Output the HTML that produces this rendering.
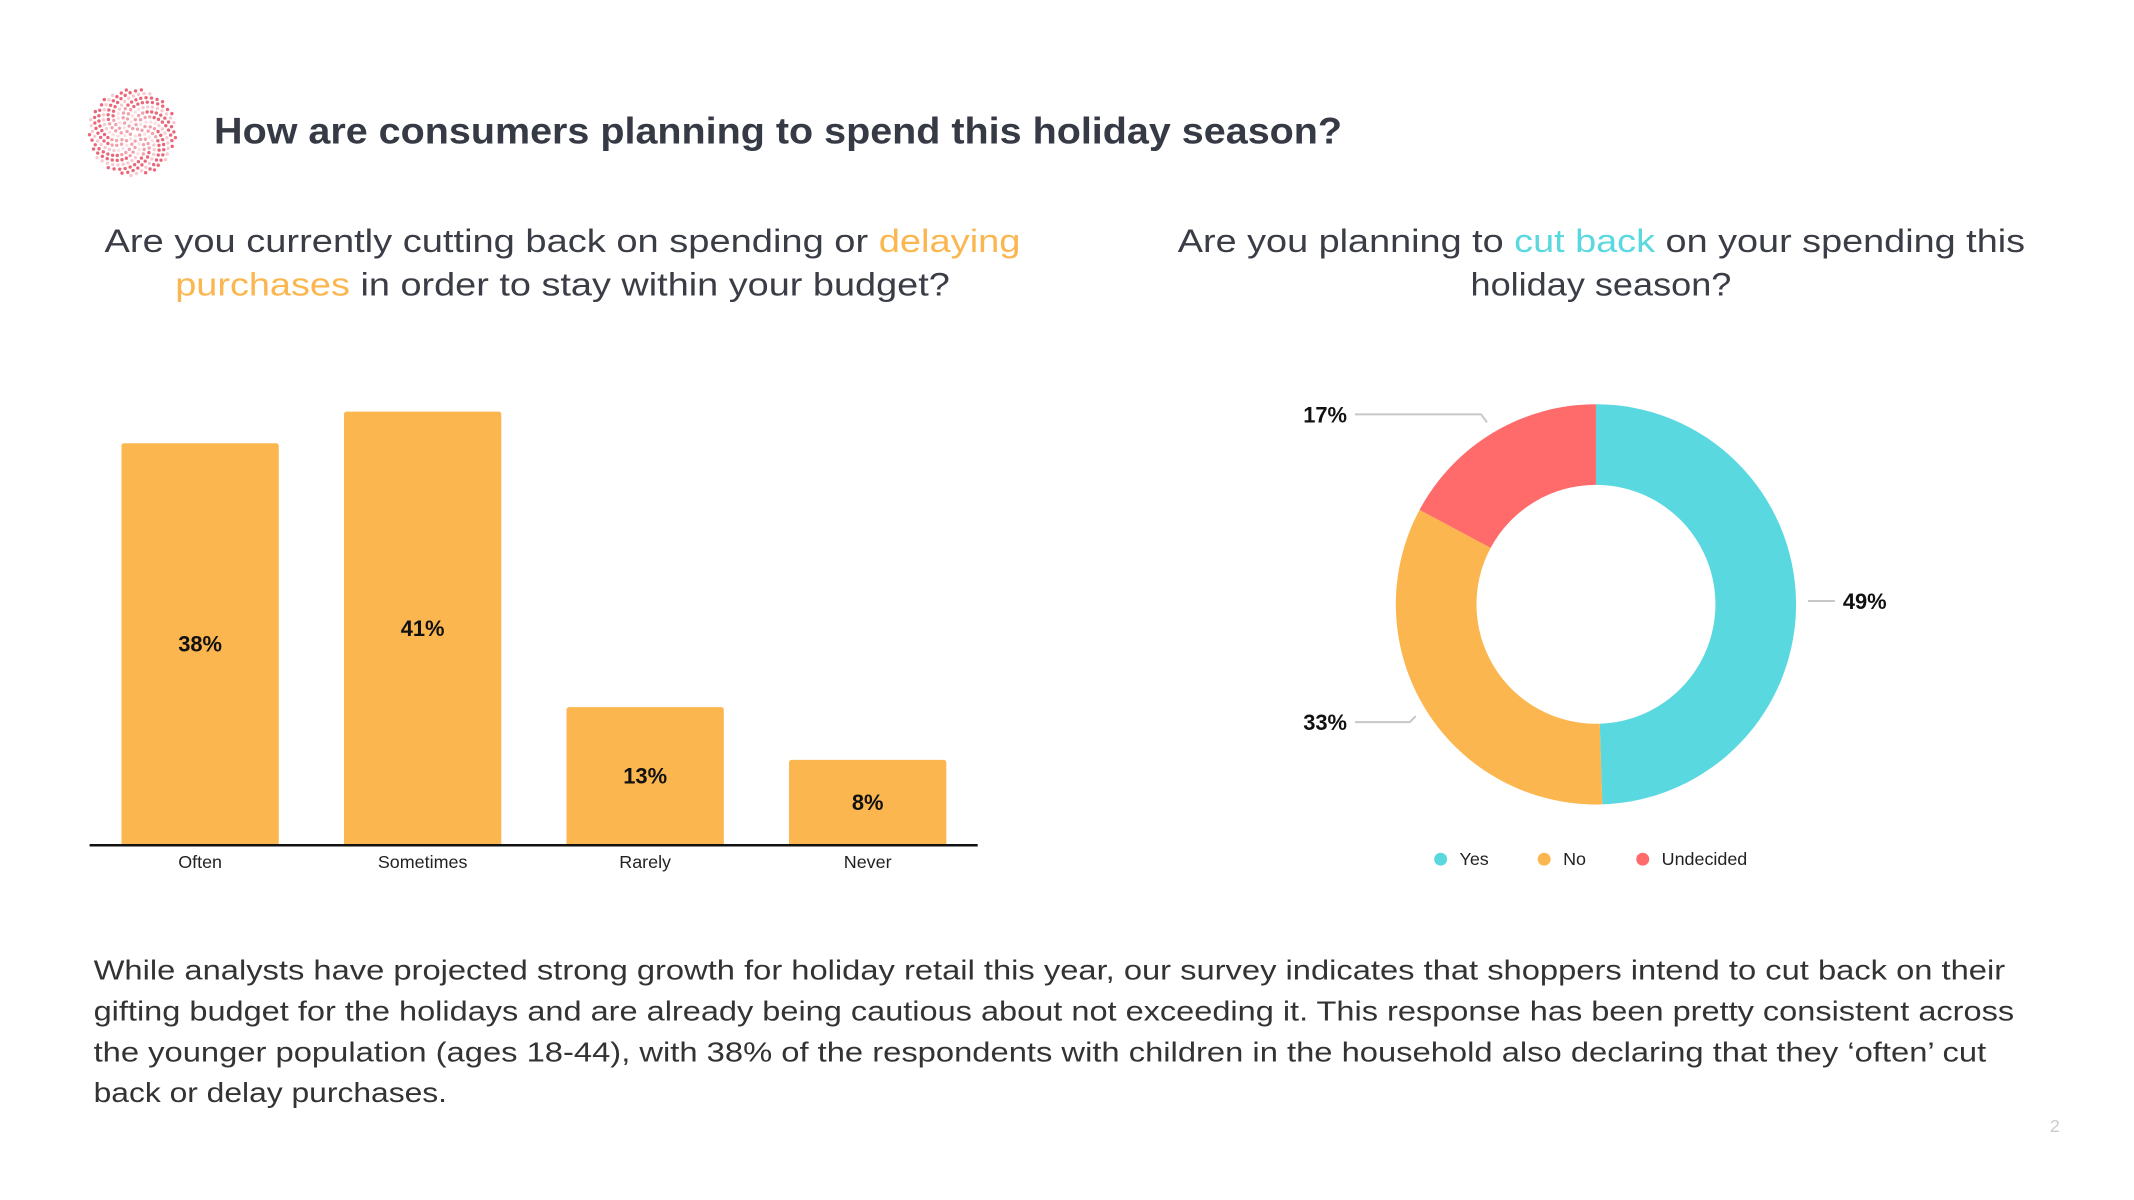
<!DOCTYPE html>
<html><head><meta charset="utf-8"><style>
html,body{margin:0;padding:0;background:#fff;}
svg{display:block;font-family:"Liberation Sans",sans-serif;}
</style></head><body>
<svg id="page" width="2134" height="1200" viewBox="0 0 2134 1200">
<g transform="scale(0.9956)">
<g id="logo"></g>
<text x="215" y="144" font-size="37" font-weight="bold" fill="#363a45" textLength="1133" lengthAdjust="spacingAndGlyphs">How are consumers planning to spend this holiday season?</text>

<g font-size="33" fill="#3a3d45">
<text x="105" y="253" textLength="920" lengthAdjust="spacingAndGlyphs">Are you currently cutting back on spending or <tspan fill="#fbb64f">delaying</tspan></text>
<text x="176" y="297" textLength="778" lengthAdjust="spacingAndGlyphs"><tspan fill="#fbb64f">purchases</tspan> in order to stay within your budget?</text>
</g>
<g font-size="33" fill="#3a3d45">
<text x="1183" y="253" textLength="851" lengthAdjust="spacingAndGlyphs">Are you planning to <tspan fill="#5ad8e0">cut back</tspan> on your spending this</text>
<text x="1477" y="297" textLength="262" lengthAdjust="spacingAndGlyphs">holiday season?</text>
</g>

<g id="bars"></g>
<g id="donut"></g>

<g font-size="28" fill="#333">
<text x="94" y="984" textLength="1920" lengthAdjust="spacingAndGlyphs">While analysts have projected strong growth for holiday retail this year, our survey indicates that shoppers intend to cut back on their</text>
<text x="94" y="1025" textLength="1929" lengthAdjust="spacingAndGlyphs">gifting budget for the holidays and are already being cautious about not exceeding it. This response has been pretty consistent across</text>
<text x="94" y="1066" textLength="1901" lengthAdjust="spacingAndGlyphs">the younger population (ages 18-44), with 38% of the respondents with children in the household also declaring that they ‘often’ cut</text>
<text x="94" y="1107" textLength="355" lengthAdjust="spacingAndGlyphs">back or delay purchases.</text>
</g>
<text x="2064" y="1137" font-size="18" fill="#ccc" text-anchor="middle">2</text>
</g>
</svg>
<script>
const NS='http://www.w3.org/2000/svg';
const barCategories=['Often','Sometimes','Rarely','Never'];
const barValues=[38,41,13,8];
const barLabels=['38%','41%','13%','8%'];
const donutCategories=['Yes','No','Undecided'];
const donutValues=[49,33,17];
const donutLabels=['49%','33%','17%'];

function mk(tag,attrs,parent){const e=document.createElementNS(NS,tag);for(const k in attrs)e.setAttribute(k,attrs[k]);parent.appendChild(e);return e;}

// logo
const logo=document.getElementById('logo');
for(let i=1;i<260;i++){
  const r=44*Math.sqrt(i/260), a=i*2.39996;
  const c=mk('circle',{cx:133+r*Math.cos(a),cy:133+r*Math.sin(a),r:1.7,fill:(i%3===0)?'#f7c4cb':'#e8566a',opacity:(r<25?0.55:0.9)},logo);
  
  
}

// bar chart
const bars=document.getElementById('bars');
const baseY=848, pxPer=10.6, slot0=122, slotStep=223.5, barW=158;
const yS=v=>baseY-v*pxPer;
const xS=i=>slot0+i*slotStep;
barValues.forEach((v,i)=>{
  const x=xS(i), y=yS(v);
  const r=mk('path',{d:`M${x},${baseY}V${y+3}Q${x},${y} ${x+3},${y}H${x+barW-3}Q${x+barW},${y} ${x+barW},${y+3}V${baseY}Z`,fill:'#fbb64f'},bars);
  
  
  const t=mk('text',{x:x+barW/2,y:(y+baseY)/2+8,'text-anchor':'middle','font-size':22,'font-weight':'bold',fill:'#111'},bars);
  t.textContent=barLabels[i];
  
  
  const c=mk('text',{x:x+barW/2,y:872,'text-anchor':'middle','font-size':18,fill:'#222'},bars);
  c.textContent=barCategories[i];
  
  
});
const ax=mk('line',{x1:90,x2:982,y1:849,y2:849,stroke:'#111','stroke-width':2.5},bars);



// donut
const donut=document.getElementById('donut');
const cx=1603, cy=607, R=201, r0=120;
const colors=['#5ad8e0','#fbb64f','#ff6b6b'];
const total=donutValues.reduce((a,b)=>a+b,0);
let acc=0;
const pt=(ang,rad)=>[cx+rad*Math.sin(ang),cy-rad*Math.cos(ang)];
donutValues.forEach((v,i)=>{
  const a0=acc/total*2*Math.PI; acc+=v; const a1=acc/total*2*Math.PI;
  const large=(a1-a0)>Math.PI?1:0;
  const [x0,y0]=pt(a0,R),[x1,y1]=pt(a1,R),[x2,y2]=pt(a1,r0),[x3,y3]=pt(a0,r0);
  const p=mk('path',{d:`M${x0},${y0}A${R},${R} 0 ${large} 1 ${x1},${y1}L${x2},${y2}A${r0},${r0} 0 ${large} 0 ${x3},${y3}Z`,fill:colors[i]},donut);
  
  
  const mid=(a0+a1)/2;
  const [ex,ey]=pt(mid,R+12);
  const right=Math.sin(mid)>0;
  const cs=Math.cos(mid);
  const ly=Math.abs(cs)<0.2?ey:(cs>0?ey-8:ey+6);
  let pts, lx2;
  if(right){ lx2=ex+27; pts=`${ex},${ly} ${lx2},${ly}`; }
  else { lx2=cx-242; pts=`${ex},${ey} ${ex-6},${ly} ${lx2},${ly}`; }
  const ln=mk('polyline',{points:pts,fill:'none',stroke:'#c8c8c8','stroke-width':2},donut);
  
  
  const t=mk('text',{x:right?lx2+8:lx2-8,y:ly+8,'text-anchor':right?'start':'end','font-size':22,'font-weight':'bold',fill:'#111'},donut);
  t.textContent=donutLabels[i];
  
  
});
// legend
const legX=[1447,1551,1650];
donutCategories.forEach((c,i)=>{
  const g=mk('g',{},donut);
  
  
  mk('circle',{cx:legX[i],cy:863,r:6.5,fill:colors[i]},g);
  const t=mk('text',{x:legX[i]+19,y:869,'font-size':18,fill:'#222'},g);
  t.textContent=c;
});
</script>
</body></html>
